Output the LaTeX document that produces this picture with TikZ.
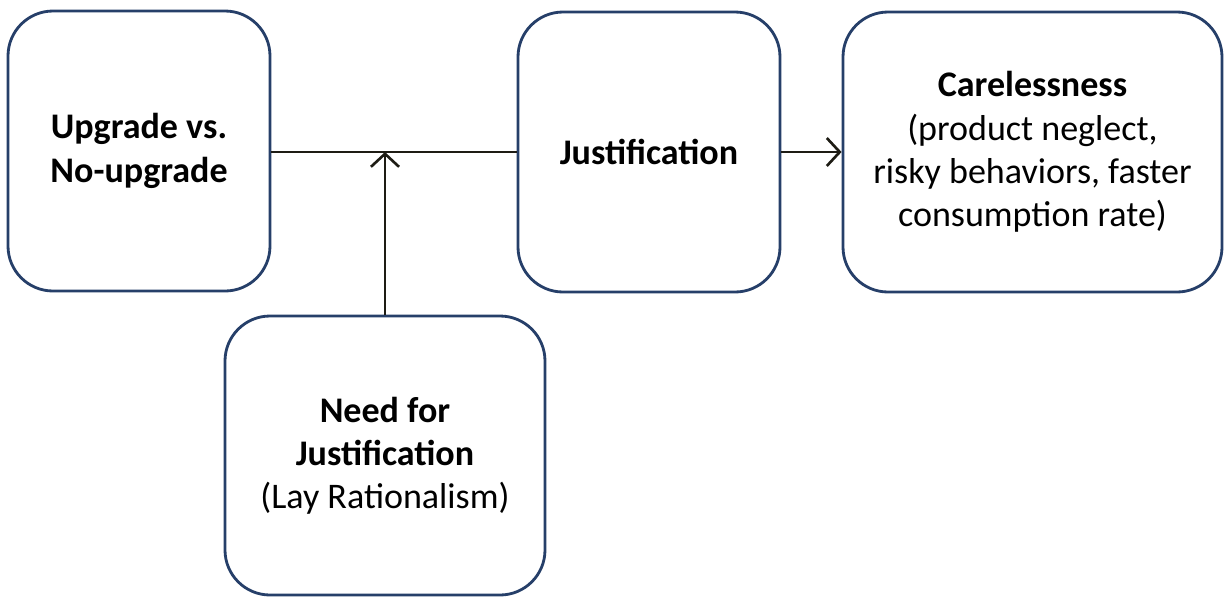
\documentclass[tikz,border=0pt]{standalone}
\usepackage{fontspec}
\setmainfont{Carlito}
\usepackage{tikz}
\usetikzlibrary{positioning}
\usetikzlibrary{arrows.meta}
\definecolor{boxblue}{RGB}{38,63,105}

\tikzset{
	box/.style={draw=boxblue, line width=1.6pt, rounded corners=0.9cm, fill=white,
		align=center, minimum height=5.6cm, inner sep=2pt,
		font=\fontsize{20.5}{24.6}\selectfont},
	link/.style={line width=1.5pt, draw={rgb,255:red,30;green,28;blue,20}},
	>={Straight Barb[length=2.6mm,width=5.6mm,line width=1.5pt]}
}

\begin{document}
\begin{tikzpicture}

	\useasboundingbox (0,0) rectangle (24.5,-11.94);
	% Boxes %
	\node (upgrade) [box, minimum width=5.24cm] at (2.78,-3.02) {\textbf{Upgrade vs.}\\\textbf{No-upgrade}};
	\node (justif) [box, minimum width=5.24cm] at (12.98,-3.04) {\textbf{Justification}};
	\node (careless) [box, minimum width=7.58cm] at (20.65,-3.04) {\textbf{Carelessness}\\(product neglect,\\risky behaviors, faster\\consumption rate)};
	\node (need) [box, minimum width=6.4cm, minimum height=5.58cm] at (7.7,-9.11) {\textbf{Need for}\\\textbf{Justification}\\(Lay Rationalism)};
	% Links %
	\coordinate (join) at (need.north |- justif.west);
	\draw [link] (upgrade.east |- justif.west) -- (justif.west);
	\draw [link, ->] (need.north) -- (join);
	\draw [link, ->] (justif.east) -- (careless.west);
\end{tikzpicture}
\end{document}
